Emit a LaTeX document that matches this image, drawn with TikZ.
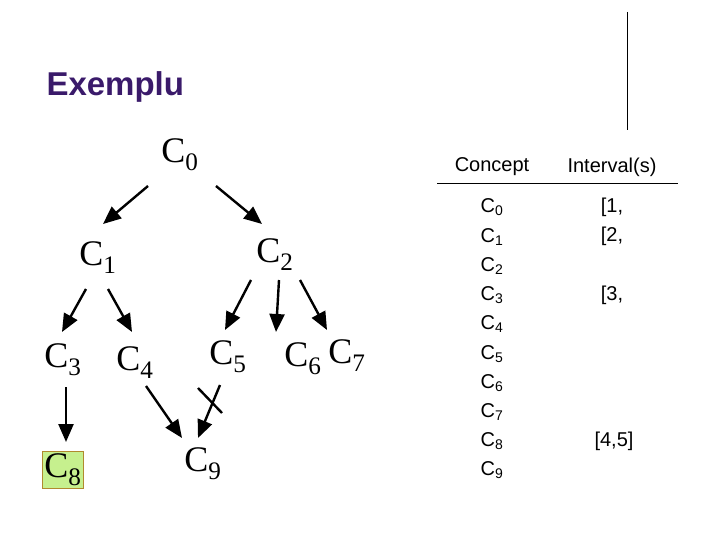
\documentclass[tikz,border=0pt]{standalone}
\usepackage{fontspec}
\setmainfont{Liberation Serif}
\setsansfont{Liberation Sans}
\usetikzlibrary{arrows.meta}
\definecolor{ttl}{HTML}{3A1A6A}
\definecolor{hl}{HTML}{C6F08E}
\definecolor{hlb}{HTML}{B08A2E}
\begin{document}
\begin{tikzpicture}[x=1pt,y=-1pt,
  cn/.style={font=\fontsize{36}{36}\selectfont, inner sep=1pt},
  arr/.style={line width=2.4pt,-{Triangle[length=18pt,width=15pt]}},
  tb/.style={font=\sffamily\fontsize{20}{20}\selectfont, inner sep=0pt}]
\useasboundingbox (0,0) rectangle (720,540);
\node[font=\sffamily\bfseries\fontsize{33}{33}\selectfont, text=ttl, anchor=west] (title) at (43,87) {Exemplu};
\draw[line width=1pt] (627,12) coordinate (vt) -- (627,130) coordinate (vb);
% tree
\node[cn] (c0) at (180,155) {C\textsubscript{0}};
\node[cn] (c1) at (98,258) {C\textsubscript{1}};
\node[cn] (c2) at (275,255) {C\textsubscript{2}};
\node[cn] (c3) at (63,360) {C\textsubscript{3}};
\node[cn] (c4) at (135,363) {C\textsubscript{4}};
\node[cn] (c5) at (228,357) {C\textsubscript{5}};
\node[cn] (c6) at (303,359) {C\textsubscript{6}};
\node[cn] (c7) at (347,356) {C\textsubscript{7}};
\node[cn, fill=hl, draw=hlb, line width=0.8pt, inner sep=2pt] (c8) at (63,470) {C\textsubscript{8}};
\node[cn] (c9) at (203,464) {C\textsubscript{9}};
\coordinate (a0) at (148,186); \coordinate (a1) at (103,224);
\coordinate (b0) at (216,186); \coordinate (b1) at (262,224);
\coordinate (d0) at (86,289); \coordinate (d1) at (62,332);
\coordinate (e0) at (108,289); \coordinate (e1) at (132,332);
\coordinate (f0) at (251,280); \coordinate (f1) at (225,330);
\coordinate (g0) at (279,280); \coordinate (g1) at (276,332);
\coordinate (h0) at (300,280); \coordinate (h1) at (327,330);
\coordinate (i0) at (66,387); \coordinate (i1) at (66,442);
\coordinate (j0) at (146,386); \coordinate (j1) at (182,438);
\coordinate (k0) at (220,385); \coordinate (k1) at (198,438);
\draw[arr] (a0) -- (a1);
\draw[arr] (b0) -- (b1);
\draw[arr] (d0) -- (d1);
\draw[arr] (e0) -- (e1);
\draw[arr] (f0) -- (f1);
\draw[arr] (g0) -- (g1);
\draw[arr] (h0) -- (h1);
\draw[arr] (i0) -- (i1);
\draw[arr] (j0) -- (j1);
\draw[arr] (k0) -- (k1);
\draw[line width=2.4pt] (198,388) coordinate (x0) -- (222,413) coordinate (x1);
% table
\node[tb] (hc) at (492,167) {Concept};
\node[tb] (hi) at (612,167) {Interval(s)};
\draw[line width=0.8pt] (437,183) coordinate (l0) -- (678,183) coordinate (l1);
\foreach \i/\y in {0/207,1/237,2/266,3/295,4/324,5/354,6/383,7/412,8/441,9/470}
  \node[tb] (r\i) at (492,\y) {C\textsubscript{\i}};
\node[tb] (v0) at (612,207) {[1,};
\node[tb] (v1) at (612,236) {[2,};
\node[tb] (v3) at (612,295) {[3,};
\node[tb] (v8) at (614,441) {[4,5]};
\end{tikzpicture}
\end{document}
